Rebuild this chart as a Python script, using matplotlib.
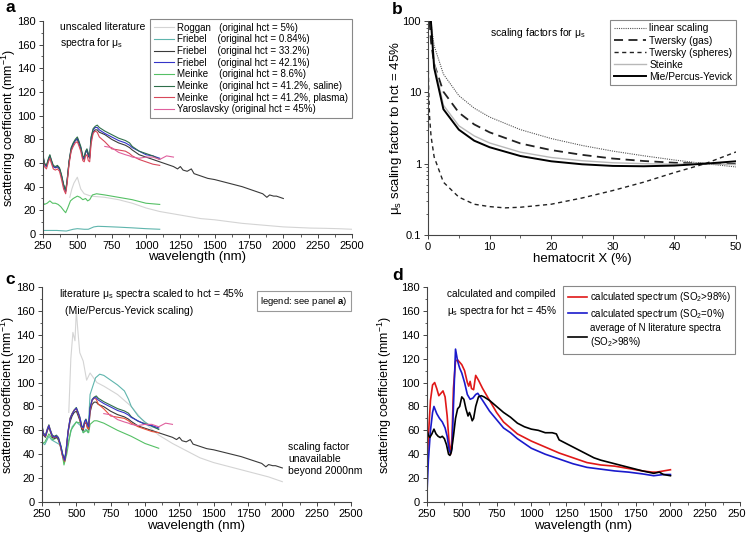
import matplotlib
matplotlib.use("Agg")
import matplotlib.pyplot as plt
import numpy as np
from matplotlib.ticker import MultipleLocator, LogLocator, NullFormatter, FixedLocator
from matplotlib.font_manager import FontProperties
from matplotlib.textpath import TextToPath

plt.rcParams['font.family'] = ['Liberation Sans', 'DejaVu Sans']
plt.rcParams['mathtext.fontset'] = 'custom'
plt.rcParams['mathtext.rm'] = 'Liberation Sans'
plt.rcParams['mathtext.it'] = 'Liberation Sans:italic'
plt.rcParams['mathtext.bf'] = 'Liberation Sans:bold'

# ---------------- panel a: unscaled literature spectra ----------------
roggan_wl = [445, 460, 475, 490, 500, 510, 525, 550, 575, 600, 650, 700, 800, 900, 1000, 1100,
             1200, 1300, 1400, 1500, 1600, 1700, 1800, 1900, 2000, 2100, 2200, 2300, 2400, 2500]
roggan_a = [31, 38, 43, 46, 48, 44, 38, 34, 33, 32, 31.5, 31, 29, 26, 22, 19,
            17, 15, 13, 12, 10.5, 9, 8, 7, 6, 5.5, 5, 4.8, 4.5, 4]

fr084_wl = [250, 300, 350, 420, 470, 500, 550, 580, 620, 650, 700, 800, 900, 1000, 1100]
fr084_a = [3, 3, 3, 2.5, 4, 4.5, 4, 4, 6, 6.5, 6.3, 5.8, 5.2, 4.5, 4]

# shared grid for the high-hct spectra (250-1100 nm)
hi_wl = [250, 260, 275, 290, 300, 310, 325, 340, 355, 370, 385, 400, 415, 425, 440, 455, 470,
         485, 500, 510, 525, 540, 550, 560, 570, 580, 590, 600, 615, 630, 645, 660, 700, 750,
         800, 850, 880, 900, 950, 1000, 1050, 1100]
me_saline_a = [67, 60, 58, 64, 67, 63, 58, 57, 58, 56, 50, 42, 37, 45, 62, 73, 77,
               80, 82, 79, 74, 66, 65, 70, 72, 68, 66, 82, 89, 91, 92, 90, 87, 84,
               81, 79, 77, 74, 70, 68, 66, 63]
fr421_a = [66, 59, 57, 63, 66, 62, 57, 56, 57, 55, 49, 41, 36, 44, 61, 72, 76,
           79, 81, 78, 73, 65, 64, 69, 71, 67, 65, 81, 88, 90, 90, 88, 85, 82,
           79, 77, 75, 73, 70, 67, 66, 64]
me_plasma_a = [63, 57, 55, 61, 64, 60, 55, 54, 55, 53, 46, 38, 34, 42, 59, 70, 74,
               77, 78, 75, 70, 62, 61, 66, 67, 62, 61, 76, 85, 87, 86, 82, 78, 72,
               71, 70, 68, 66, 63, 61, 59, 58]

fr332_wl = hi_wl + [1150, 1200, 1230, 1250, 1270, 1300, 1330, 1350, 1400, 1450, 1500, 1600,
                    1700, 1750, 1800, 1850, 1880, 1900, 1930, 1950, 2000]
fr332_a = [66, 59, 57, 63, 66, 62, 57, 56, 57, 55, 49, 41, 36, 44, 61, 71, 76,
           79, 80, 77, 72, 64, 63, 69, 70, 66, 64, 79, 86, 88, 88, 86, 84, 80,
           77, 75, 73, 71, 67, 65, 63, 61,
           59, 57, 55, 57, 54, 53, 55, 51, 49, 47, 46, 43,
           40, 38, 36, 34, 31, 33, 32, 32, 30]

me86_wl = [250, 260, 280, 300, 320, 340, 360, 380, 400, 415, 430, 450, 470, 500, 520, 540,
           560, 575, 590, 610, 640, 700, 800, 900, 1000, 1100]
me86_a = [27, 25, 26, 28, 26, 26, 25, 23, 20, 18, 22, 28, 30, 32, 31, 29,
          30, 28, 29, 33, 34, 33, 31, 29, 26, 25]

yaro_wl = [700, 750, 800, 850, 880, 900, 950, 1000, 1050, 1100, 1150, 1200]
yaro_a = [74, 73, 69, 67, 66, 65, 64, 65, 65, 63, 66, 65]

# ---------------- panel b: scaling factors ----------------
hct_x = [0.25, 0.5, 1, 2.5, 5, 7.5, 10, 15, 20, 25, 30, 35, 40, 45, 50]
f_linear = [180, 90, 45, 18, 9, 6, 4.5, 3, 2.25, 1.8, 1.5, 1.29, 1.125, 1.0, 0.9]
f_tw_gas = [100, 50, 25, 10.2, 5.2, 3.55, 2.75, 1.92, 1.55, 1.33, 1.18, 1.09, 1.03, 1.0, 0.99]
f_steinke = [200, 100, 26, 6.6, 3.4, 2.45, 1.95, 1.45, 1.22, 1.1, 1.03, 1.0, 0.98, 1.0, 0.97]
f_miepy = [200, 92, 22, 5.8, 3.0, 2.1, 1.7, 1.28, 1.08, 0.98, 0.93, 0.92, 0.94, 1.0, 1.08]
sph_x = [0.01, 0.02, 0.05, 0.1, 0.25, 0.5, 1, 2.5, 5, 7.5, 10, 12.5, 15, 20, 25, 30, 35, 40, 45, 50]
f_tw_sph = [115, 58, 23, 11.5, 4.6, 2.4, 1.24, 0.55, 0.34, 0.27, 0.25, 0.24, 0.245, 0.27,
            0.33, 0.42, 0.55, 0.75, 1.0, 1.46]

# ---------------- panel c: spectra scaled to hct = 45% ----------------
roggan_c = [75, 120, 142, 135, 160, 145, 125, 118, 102, 108, 100, 97, 90, 80, 66, 56,
            49, 43, 37, 33, 30, 27, 24, 21, 17]
fr084_c_wl = [250, 270, 300, 320, 350, 380, 410, 440, 470, 500, 530, 550, 570, 585, 600, 640,
              670, 700, 750, 800, 850, 880, 900, 950, 1000, 1050, 1100]
fr084_c = [50, 48, 55, 52, 50, 48, 33, 50, 63, 67, 64, 58, 61, 58, 90, 104,
           107, 106, 102, 98, 93, 86, 80, 72, 67, 63, 61]
me86_c_wl = [250, 270, 300, 330, 360, 390, 410, 430, 460, 500, 530, 550, 575, 590, 600, 630,
             650, 700, 800, 900, 1000, 1100]
me86_c = [49, 50, 57, 52, 54, 46, 31, 40, 60, 67, 66, 58, 60, 58, 65, 68,
          68, 66, 60, 55, 49, 45]
# Mie/Percus-Yevick factors for the high-hct samples
k_fr332, k_fr421, k_saline, k_plasma, k_yaro = 0.95, 0.97, 0.965, 1.0, 1.0

# ---------------- panel d: calculated spectra ----------------
red_wl = [250, 260, 275, 290, 305, 320, 335, 350, 365, 380, 395, 410, 420, 430, 440, 455, 470,
          485, 500, 520, 540, 550, 560, 570, 585, 600, 620, 650, 700, 750, 800, 850, 900, 950,
          1000, 1100, 1200, 1300, 1400, 1500, 1600, 1700, 1800, 1870, 1900, 1950, 2000]
red_d = [28, 55, 85, 98, 100, 95, 89, 91, 93, 88, 72, 48, 40, 55, 95, 118, 119,
         117, 115, 110, 100, 97, 101, 95, 94, 106, 102, 95, 85, 75, 67, 62, 57, 54,
         51, 46, 41, 37, 33, 31, 30, 28, 26, 25, 25, 26, 27]
blue_wl = [250, 260, 275, 290, 300, 320, 340, 360, 380, 395, 410, 420, 430, 440, 455, 470, 485,
           500, 520, 540, 560, 580, 600, 615, 650, 700, 750, 800, 850, 900, 950, 1000, 1100,
           1200, 1300, 1400, 1500, 1600, 1700, 1800, 1880, 1950, 2000]
blue_d = [8, 35, 60, 75, 80, 74, 70, 67, 62, 55, 43, 41, 45, 80, 128, 118, 112,
          108, 100, 90, 86, 87, 90, 91, 85, 76, 69, 62, 58, 53, 49, 45, 40,
          36, 32, 29, 27.5, 26, 25, 23.5, 22, 23, 23]
avg_wl = [250, 260, 270, 285, 300, 315, 330, 345, 360, 375, 390, 405, 415, 425, 440, 455, 470,
          485, 500, 515, 530, 545, 555, 565, 575, 585, 600, 620, 640, 660, 700, 750, 800, 850,
          900, 950, 1000, 1050, 1100, 1150, 1180, 1200, 1250, 1300, 1350, 1400, 1450, 1500,
          1600, 1700, 1800, 1880, 1920, 1950, 2000]
avg_d = [60, 56, 54, 57, 61, 57, 55, 54, 55, 53, 48, 40, 39, 42, 55, 70, 78,
         80, 88, 86, 78, 72, 75, 72, 68, 70, 80, 88, 89, 88, 85, 80, 75, 71,
         66, 63, 61, 60, 58, 58, 57, 52, 49, 46, 43, 40, 37, 35,
         32, 29, 26, 24, 25, 23, 22]

c_roggan, c_fr084, c_fr332, c_fr421 = '#d4d4d4', '#5fb5ad', '#3a3a3a', '#3434c8'
c_me86, c_saline, c_plasma, c_yaro = '#55c065', '#2e6e4a', '#d8485a', '#e0609e'

W, H = 746, 533
fig = plt.figure(figsize=(W / 100, H / 100), dpi=100)


def box(l, t, r, b):
    return [l / W, 1 - b / H, (r - l) / W, (b - t) / H]


def style(ax):
    for s in ['top', 'right']:
        ax.spines[s].set_visible(False)
    for s in ['left', 'bottom']:
        ax.spines[s].set_color('#444444')
        ax.spines[s].set_linewidth(0.8)
    ax.tick_params(which='major', direction='out', length=3, width=0.7, labelsize=8,
                   colors='#444444', labelcolor='black', pad=2)
    ax.tick_params(which='minor', direction='out', length=1.8, width=0.6, colors='#444444')


def spectrum_axes(ax, ylab_x, xlab_y):
    ax.set_xlim(250, 2500)
    ax.set_ylim(0, 180)
    ax.xaxis.set_major_locator(MultipleLocator(250))
    ax.xaxis.set_minor_locator(MultipleLocator(125))
    ax.yaxis.set_major_locator(MultipleLocator(20))
    ax.yaxis.set_minor_locator(MultipleLocator(10))
    ax.set_xlabel('wavelength (nm)', fontsize=9.5)
    ax.set_ylabel('scattering coefficient (mm$^{-1}$)', fontsize=9)
    ax.yaxis.set_label_coords(ylab_x, 0.5)
    ax.xaxis.set_label_coords(0.5, xlab_y)
    style(ax)


lw = 0.8
# ---------- a ----------
ax = fig.add_axes(box(43, 21, 352, 234))
spectrum_axes(ax, -0.08, -0.082)
names = ['Roggan', 'Friebel', 'Friebel', 'Friebel', 'Meinke', 'Meinke', 'Meinke', 'Yaroslavsky']
hcts = ['5%', '0.84%', '33.2%', '42.1%', '8.6%', '41.2%, saline', '41.2%, plasma', '45%']
fp = FontProperties(family='Liberation Sans', size=7)
t2p = TextToPath()


def tw(s):
    return t2p.get_text_width_height_descent(s, fp, ismath=False)[0]


sp = tw('a a') - tw('aa')
stop = max(tw(n) for n in names[:-1]) + 2.5 * sp
labels = []
for n, h in zip(names, hcts):
    k = 1 if n == 'Yaroslavsky' else max(1, int(round((stop - tw(n)) / sp)))
    labels.append(n + ' ' * k + '(original hct = ' + h + ')')

ax.plot(roggan_wl, roggan_a, color=c_roggan, lw=lw, label=labels[0])
ax.plot(fr084_wl, fr084_a, color=c_fr084, lw=lw, label=labels[1])
ax.plot(fr332_wl, fr332_a, color=c_fr332, lw=lw, label=labels[2])
ax.plot(hi_wl, fr421_a, color=c_fr421, lw=lw, label=labels[3])
ax.plot(me86_wl, me86_a, color=c_me86, lw=lw, label=labels[4])
ax.plot(hi_wl, me_saline_a, color=c_saline, lw=lw, label=labels[5])
ax.plot(hi_wl, me_plasma_a, color=c_plasma, lw=lw, label=labels[6])
ax.plot(yaro_wl, yaro_a, color=c_yaro, lw=lw, label=labels[7])
leg = ax.legend(loc='upper right', bbox_to_anchor=(1.0, 1.01), fontsize=7, handlelength=2.0,
                labelspacing=0.17, borderpad=0.4, handletextpad=0.35, fancybox=False,
                framealpha=1, edgecolor='#888888', borderaxespad=0)
leg.get_frame().set_linewidth(0.8)
ax.text(0.055, 0.995, 'unscaled literature\nspectra for μ$_{\\rm s}$', transform=ax.transAxes,
        fontsize=7.5, va='top', ha='left', linespacing=1.4)

# ---------- b ----------
bx = fig.add_axes(box(428, 21, 736, 235))
bx.set_yscale('log')
bx.set_xlim(0, 50)
bx.set_ylim(0.1, 100)
bx.xaxis.set_major_locator(MultipleLocator(10))
bx.xaxis.set_minor_locator(MultipleLocator(5))
bx.yaxis.set_major_locator(FixedLocator([0.1, 1, 10, 100]))
bx.yaxis.set_major_formatter(plt.FuncFormatter(lambda v, p: f'{v:g}'))
bx.yaxis.set_minor_locator(LogLocator(base=10, subs=np.arange(2, 10)))
bx.yaxis.set_minor_formatter(NullFormatter())
bx.plot(hct_x, f_linear, color='#555555', lw=0.8, ls=(0, (1, 1)), label='linear scaling')
bx.plot(hct_x, f_tw_gas, color='#222222', lw=1.3, ls=(0, (5, 3)), label='Twersky (gas)')
bx.plot(sph_x, f_tw_sph, color='#222222', lw=1.0, ls=(0, (3, 2.5)), label='Twersky (spheres)')
bx.plot(hct_x, f_steinke, color='#b8b8b8', lw=1.0, label='Steinke')
bx.plot(hct_x, f_miepy, color='black', lw=1.4, label='Mie/Percus-Yevick')
style(bx)
bx.set_xlabel('hematocrit X (%)', fontsize=9.5)
bx.set_ylabel('μ$_{\\rm s}$ scaling factor to hct = 45%', fontsize=9.5)
bx.yaxis.set_label_coords(-0.078, 0.5)
bx.xaxis.set_label_coords(0.5, -0.085)
leg = bx.legend(loc='upper right', bbox_to_anchor=(1.0, 1.005), fontsize=7.3, handlelength=3.2,
                labelspacing=0.2, borderpad=0.35, handletextpad=0.3, fancybox=False,
                framealpha=1, edgecolor='#888888', borderaxespad=0)
leg.get_frame().set_linewidth(0.8)
bx.text(0.2, 0.975, 'scaling factors for μ$_{\\rm s}$', transform=bx.transAxes, fontsize=7.5,
        va='top', ha='left')

# ---------- c ----------
cx = fig.add_axes(box(42, 287, 351, 502))
spectrum_axes(cx, -0.08, -0.082)
cx.plot(roggan_wl[:25], roggan_c, color=c_roggan, lw=lw)
cx.plot(fr084_c_wl, fr084_c, color=c_fr084, lw=lw)
cx.plot(me86_c_wl, me86_c, color=c_me86, lw=lw)
cx.plot(fr332_wl, np.array(fr332_a) * k_fr332, color=c_fr332, lw=lw)
cx.plot(hi_wl, np.array(me_saline_a) * k_saline, color=c_saline, lw=lw)
cx.plot(hi_wl, np.array(me_plasma_a) * k_plasma, color='#e8503a', lw=lw)
cx.plot(hi_wl, np.array(fr421_a) * k_fr421, color=c_fr421, lw=lw)
cx.plot(yaro_wl, np.array(yaro_a) * k_yaro, color=c_yaro, lw=lw)
cx.text(0.055, 1.0, 'literature μ$_{\\rm s}$ spectra scaled to hct = 45%', transform=cx.transAxes,
        fontsize=7.5, va='top', ha='left')
cx.text(0.073, 0.91, '(Mie/Percus-Yevick scaling)', transform=cx.transAxes,
        fontsize=7.5, va='top', ha='left')
cx.text(0.99, 0.965, 'legend: see panel $\\mathbf{a}$)', transform=cx.transAxes, fontsize=6.8,
        va='top', ha='right',
        bbox=dict(boxstyle='square,pad=0.35', fc='white', ec='#999999', lw=0.8))
cx.text(0.797, 0.2, 'scaling factor\nunavailable\nbeyond 2000nm', transform=cx.transAxes,
        fontsize=7.5, va='center', ha='left', linespacing=1.3)

# ---------- d ----------
dx = fig.add_axes(box(427, 287, 740, 502))
spectrum_axes(dx, -0.105, -0.086)
dx.plot(red_wl, red_d, color='#e01818', lw=1.2, label='calculated spectrum (SO$_2$>98%)')
dx.plot(blue_wl, blue_d, color='#1a1acc', lw=1.2, label='calculated spectrum (SO$_2$=0%)')
dx.plot(avg_wl, avg_d, color='black', lw=1.2,
        label='average of N literature spectra\n(SO$_2$>98%)')
leg = dx.legend(loc='upper right', bbox_to_anchor=(0.985, 1.005), fontsize=7, handlelength=2.0,
                labelspacing=0.25, borderpad=0.45, handletextpad=0.3, fancybox=False,
                framealpha=1, edgecolor='#888888', borderaxespad=0)
leg.get_frame().set_linewidth(0.8)
dx.text(0.064, 0.99, 'calculated and compiled\nμ$_{\\rm s}$ spectra for hct = 45%',
        transform=dx.transAxes, fontsize=7.3, va='top', ha='left', linespacing=1.5)

for lab, x, y in [('a', 5, 8), ('b', 392, 9), ('c', 5, 279), ('d', 392, 276)]:
    fig.text(x / W, 1 - y / H, lab, fontsize=12.5, fontweight='bold', ha='left', va='center')

fig.savefig('out.png', dpi=100)
